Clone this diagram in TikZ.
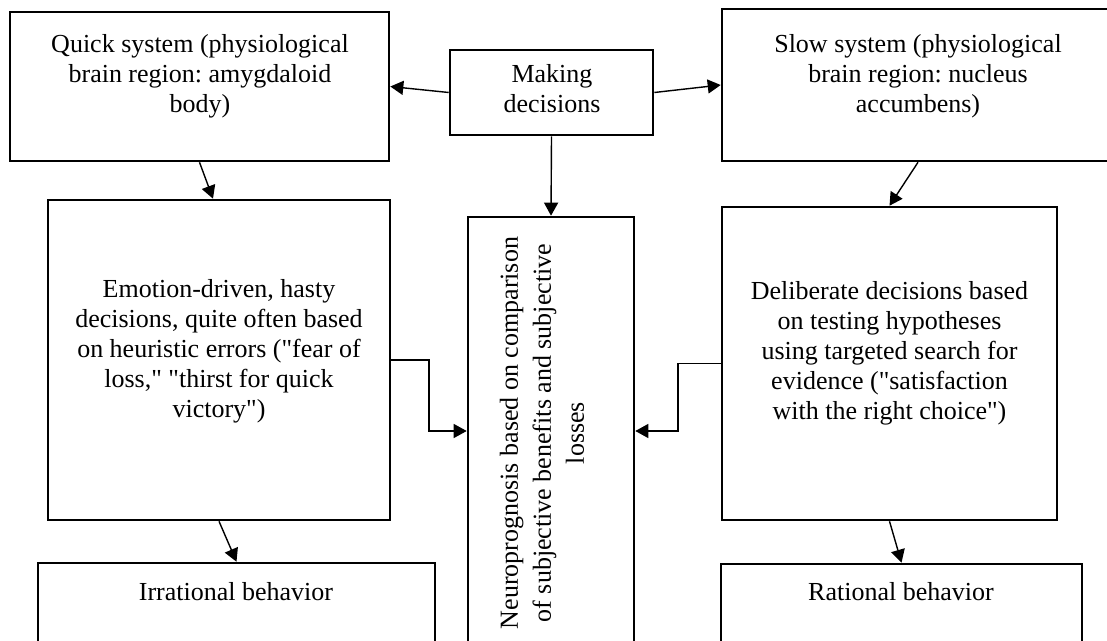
\documentclass[tikz,border=0pt]{standalone}
\usepackage{fontspec}
\setmainfont{Liberation Serif}
\usetikzlibrary{arrows.meta}
\frenchspacing
\begin{document}
\begin{tikzpicture}[x=0.5pt,y=-0.5pt,
  box/.style={draw, line width=1.3pt, inner sep=0pt},
  txt/.style={align=center, font=\fontsize{13}{15}\selectfont, inner sep=0pt},
  vtxt/.style={align=center, font=\fontsize{13}{16.5}\selectfont, inner sep=0pt, rotate=90},
  arr/.style={line width=0.7pt, -{Triangle[length=6.5pt,width=7pt]}}]
\useasboundingbox (0,0) rectangle (1107,641);
\clip (0,0) rectangle (1107,641);
% boxes
\node[box, minimum width=189.5pt, minimum height=74.5pt] (A) at (199.5,86.5) {};
\node[box, minimum width=101.5pt, minimum height=42.5pt] (B) at (551.5,92.5) {};
\node[box, minimum width=196pt, minimum height=76pt] (C) at (918,85) {};
\node[box, minimum width=171pt, minimum height=160pt] (D) at (219,360) {};
\node[box, minimum width=167.5pt, minimum height=156.5pt] (E) at (889.5,363.5) {};
\node[box, minimum width=83pt, minimum height=241.5pt] (F) at (551,458.5) {};
\node[box, minimum width=198.5pt, minimum height=68.5pt] (G) at (236.5,631.5) {};
\node[box, minimum width=180.5pt, minimum height=68pt] (H) at (901.5,632) {};
% texts
\node[txt] (At) at (200,76) {Quick system (physiological\\brain region: amygdaloid\\body)};
\node[txt] (Bt) at (552,89) {Making\\decisions};
\node[txt] (Ct) at (918,76) {Slow system (physiological\\brain region: nucleus\\accumbens)};
\node[txt] (Dt) at (219,351) {Emotion-driven, hasty\\decisions, quite often based\\on heuristic errors (\textquotedbl fear of\\loss,\textquotedbl{} \textquotedbl thirst for quick\\victory\textquotedbl)};
\node[txt] (Et) at (889.5,353) {Deliberate decisions based\\on testing hypotheses\\using targeted search for\\evidence (\textquotedbl satisfaction\\with the right choice\textquotedbl)};
\node[vtxt] (Ft) at (542,433) {Neuroprognosis based on comparison\\of subjective benefits and subjective\\losses};
\node[txt] (Gt) at (236,592) {Irrational behavior};
\node[txt] (Ht) at (901,592) {Rational behavior};
% connectors
\coordinate (mL) at (429,431);
\coordinate (mR) at (678,431);
\draw[arr] (B.west) -- (A.east);
\draw[arr] (B.east) -- (C.west);
\draw[arr] (B.south) -- (F.north);
\draw[arr] (A.south) -- ([xshift=-3pt]D.north);
\draw[arr] (C.south) -- (E.north);
\draw[arr] (D.south) -- (G.north);
\draw[arr] (E.south) -- (H.north);
\draw[arr] (D.east) -| (mL) -- (mL -| F.west);
\draw[arr] (E.west) -| (mR) -- (mR -| F.east);
\end{tikzpicture}
\end{document}
